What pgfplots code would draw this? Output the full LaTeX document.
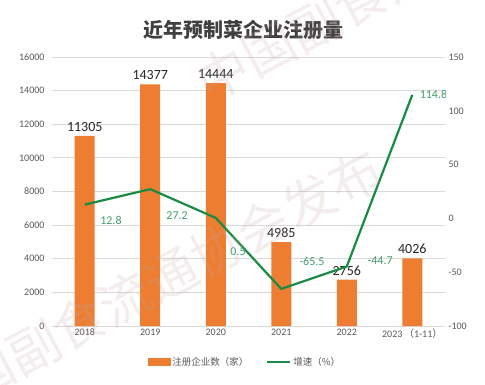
\documentclass[border=0pt]{standalone}
\usepackage{fontspec}
\setmainfont{Carlito}
\newfontfamily\cjk{Noto Sans CJK SC}
\usepackage{pgfplots}
\pgfplotsset{compat=1.18}
\definecolor{barorange}{RGB}{237,125,49}
\definecolor{linegreen}{RGB}{24,140,68}
\definecolor{lblgreen}{RGB}{70,155,110}
\definecolor{ticklbl}{RGB}{89,89,89}
\definecolor{gridc}{RGB}{217,217,217}
\definecolor{titlec}{RGB}{64,64,64}
\definecolor{wm}{RGB}{200,165,165}
\begin{document}
\begin{tikzpicture}[x=1pt,y=1pt]
\path[use as bounding box] (-52,-58) rectangle (433,326);
\begin{axis}[at={(0,0)}, anchor=south west, scale only axis,
  width=393pt, height=269pt,
  xmin=-0.5, xmax=5.5, ymin=0, ymax=16000,
  ytick={0,2000,...,16000}, scaled y ticks=false,
  xtick={0,1,2,3,4,5},
  xticklabels={2018,2019,2020,2021,2022,{2023\,{\cjk （}1-11{\cjk ）}}},
  ymajorgrids, grid style={gridc, line width=0.8pt},
  axis line style={draw=none}, tick style={draw=none}, major tick length=0pt,
  /pgf/number format/.cd, 1000 sep={}, assume math mode=true, /pgfplots/.cd,
  yticklabel style={font=\fontsize{10}{11}\selectfont, color=ticklbl, xshift=-4pt},
  xticklabel style={font=\fontsize{10}{11}\selectfont, color=ticklbl, yshift=1pt},
  nodes near coords,
  nodes near coords style={font=\fontsize{14}{15}\selectfont, color=black!85, yshift=1pt},
]
\addplot[ybar, bar width=20pt, fill=barorange, draw=none]
  coordinates {(0,11305) (1,14377) (2,14444) (3,4985) (4,2756) (5,4026)};
\end{axis}
\begin{axis}[at={(0,0)}, anchor=south west, scale only axis,
  width=393pt, height=269pt,
  xmin=-0.5, xmax=5.5, ymin=-100, ymax=150,
  ytick={-100,-50,...,150},
  hide x axis, yticklabel pos=right,
  axis line style={draw=none}, tick style={draw=none}, major tick length=0pt,
  /pgf/number format/.cd, 1000 sep={}, assume math mode=true, /pgfplots/.cd,
  yticklabel style={font=\fontsize{10}{11}\selectfont, color=ticklbl, anchor=west, xshift=0pt},
  legend style={at={(0.491,-0.134)}, anchor=center, draw=none, fill=none,
    legend columns=2, font=\cjk\fontsize{9.5}{11}\selectfont, text=ticklbl,
    /tikz/every even column/.append style={column sep=16pt}},
]
\addlegendimage{legend image code/.code={\fill[barorange] (0pt,-3.5pt) rectangle (22pt,3.5pt);}}
\addlegendentry{注册企业数（家）}
\addplot[linegreen, line width=2.2pt, mark=none,
  legend image code/.code={\draw[linegreen, line width=2pt] (0pt,0pt) -- (23pt,0pt);}]
  coordinates {(0,12.8) (1,27.2) (2,0.5) (3,-65.5) (4,-44.7) (5,114.8)};
\addlegendentry{增速（\%）}
\node[font=\fontsize{12}{13}\selectfont, text=lblgreen] at (axis cs:0.40,-1.5) {12.8};
\node[font=\fontsize{12}{13}\selectfont, text=lblgreen] at (axis cs:1.41,2.2) {27.2};
\node[font=\fontsize{12}{13}\selectfont, text=lblgreen] at (axis cs:2.34,-31.2) {0.5};
\node[font=\fontsize{12}{13}\selectfont, text=lblgreen] at (axis cs:3.47,-39.6) {-65.5};
\node[font=\fontsize{12}{13}\selectfont, text=lblgreen] at (axis cs:4.51,-39.6) {-44.7};
\node[font=\fontsize{12}{13}\selectfont, text=lblgreen, anchor=west, xshift=4pt] at (axis cs:5,114.8) {114.8};
\end{axis}
\node[font=\cjk\bfseries\fontsize{20}{22}\selectfont, text=titlec] at (191,296) {近年预制菜企业注册量};
\begin{scope}[every node/.style={font=\cjk\fontsize{52}{54}\selectfont, text=wm, text opacity=0.2, rotate=28}]
\node at (96.5,39.5) {中国副食流通协会发布};
\node at (377.5,362.5) {中国副食流通协会发布};
\node at (596.5,-42.5) {中国副食流通协会发布};
\end{scope}
\end{tikzpicture}
\end{document}
